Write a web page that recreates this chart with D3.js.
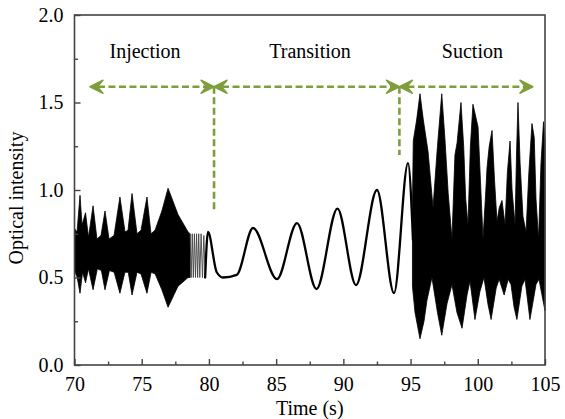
<!DOCTYPE html>
<html><head><meta charset="utf-8">
<script src="https://cdn.jsdelivr.net/npm/d3@7/dist/d3.min.js"></script>
<style>body{margin:0;background:#fff}svg text{font-family:'Liberation Serif','Times New Roman','DejaVu Serif',serif !important;fill:#000}</style>
</head><body><svg id="c" width="565" height="419" font-family="'Liberation Serif', serif"></svg>
<script>
// ---------- data ----------
const xTicks = [70, 75, 80, 85, 90, 95, 100, 105];
const xMinor = [72.5, 77.5, 82.5, 87.5, 92.5, 97.5, 102.5];
const yTicks = [0, 0.5, 1.0, 1.5, 2.0];
const yMinor = [0.25, 0.75, 1.25, 1.75];

// Injection: dense oscillation envelope
const injUpT = [70.0,70.19,70.41,70.56,70.82,71.04,71.38,71.67,71.97,72.27,72.57,72.94,73.38,73.76,73.98,74.28,74.65,74.95,75.39,75.69,75.99,76.5,76.96,77.70,78.45,78.60];
const injUpV = [0.78,0.76,0.97,0.80,0.87,0.73,0.91,0.72,0.74,0.88,0.72,0.74,0.96,0.76,0.77,0.98,0.75,0.77,0.96,0.75,0.77,0.88,1.01,0.86,0.76,0.75];
const injLoT = [70.0,70.2,70.41,70.6,70.82,71.04,71.38,71.7,72.0,72.27,72.6,72.95,73.38,73.75,74.0,74.28,74.65,74.95,75.39,75.7,76.0,76.5,76.96,77.7,78.45,78.6];
const injLoV = [0.54,0.50,0.41,0.53,0.47,0.55,0.43,0.55,0.54,0.43,0.54,0.53,0.41,0.53,0.53,0.40,0.53,0.52,0.41,0.53,0.52,0.43,0.33,0.45,0.50,0.50];

// Sparse fast oscillation at end of injection
const sparseT = [78.6,78.68,78.76,78.84,78.92,79.0,79.08,79.16,79.24,79.32,79.42,79.52,79.62,79.72];
const sparseV = [0.75,0.50,0.75,0.50,0.75,0.50,0.75,0.50,0.75,0.50,0.75,0.50,0.74,0.50];

// Transition: slow oscillation
const transT = [79.72,79.93,80.58,81.05,82.07,83.28,85.06,86.55,88.0,89.56,90.94,92.5,93.77,94.81,95.18];
const transV = [0.50,0.76,0.53,0.50,0.515,0.783,0.491,0.811,0.434,0.894,0.457,1.0,0.411,1.154,0.714];

// Suction: dense oscillation envelope
const sucUpT = [95.14,95.2,95.45,95.70,95.95,96.3,96.67,97.0,97.32,97.55,97.8,98.08,98.3,98.46,98.75,98.95,99.1,99.27,99.45,99.64,100.02,100.2,100.39,100.6,100.69,100.85,101.06,101.25,101.43,101.6,101.80,102.03,102.2,102.40,102.55,102.77,102.88,102.99,103.15,103.36,103.59,103.8,104.03,104.2,104.33,104.52,104.7,104.89,105.0];
const sucUpV = [0.90,1.28,1.40,1.55,1.40,1.22,0.90,1.25,1.55,1.30,0.98,0.72,1.20,1.27,1.50,1.25,0.95,0.80,1.25,1.49,1.36,1.05,0.72,1.00,1.13,1.25,1.34,1.05,0.82,0.90,0.94,0.80,1.10,1.28,1.00,0.80,1.20,1.50,1.15,0.85,0.76,1.10,1.38,1.30,0.95,0.72,1.15,1.39,1.29];
const sucLoT = [95.14,95.33,95.70,96.0,96.22,96.59,97.0,97.32,97.71,98.08,98.45,98.83,99.2,99.42,99.79,100.16,100.46,100.75,100.99,101.37,101.59,101.96,102.26,102.47,102.7,102.91,103.28,103.51,103.88,104.33,104.55,105.0];
const sucLoV = [0.45,0.30,0.15,0.25,0.37,0.50,0.30,0.17,0.35,0.46,0.30,0.21,0.40,0.48,0.26,0.42,0.50,0.35,0.26,0.44,0.49,0.40,0.49,0.46,0.33,0.26,0.45,0.49,0.26,0.46,0.49,0.31];

// Phase annotations
const phaseNames = ["Injection", "Transition", "Suction"];
const phaseCenters = [75.25, 87.52, 99.6];
const arrowStops = [71.15, 80.38, 94.17, 104.1];
const boundaryEnds = [0.886, 1.2];

// ---------- drawing ----------
const FONT = "'Liberation Serif','Times New Roman','DejaVu Serif',serif";
const svg = d3.select('#c');
const x = d3.scaleLinear().domain([70, 105]).range([74.5, 545]);
const y = d3.scaleLinear().domain([0, 2]).range([365, 15]);
const green = '#7f9d3c';
const fontSize = 20;

const zip = (T, V) => T.map((t, i) => [t, V[i]]);
const lin = d3.line().x(d => x(d[0])).y(d => y(d[1]));

function envelope(upT, upV, loT, loV) {
  const pts = zip(upT, upV).concat(zip(loT, loV).reverse());
  return lin(pts) + 'Z';
}
svg.append('path').attr('d', envelope(injUpT, injUpV, injLoT, injLoV))
  .attr('fill', '#000').attr('stroke', '#000').attr('stroke-width', 0.8).attr('stroke-linejoin', 'round');
svg.append('path').attr('d', envelope(sucUpT, sucUpV, sucLoT, sucLoV))
  .attr('fill', '#000').attr('stroke', '#000').attr('stroke-width', 0.8).attr('stroke-linejoin', 'round');

svg.append('path').attr('d', lin(zip(sparseT, sparseV)))
  .attr('fill', 'none').attr('stroke', '#444').attr('stroke-width', 0.9);

svg.append('path').attr('d', d3.line().curve(d3.curveMonotoneX).x(d => x(d[0])).y(d => y(d[1]))(zip(transT, transV)))
  .attr('fill', 'none').attr('stroke', '#000').attr('stroke-width', 2.3).attr('stroke-linecap', 'round');

// frame
svg.append('rect').attr('x', x(70)).attr('y', y(2)).attr('width', x(105) - x(70)).attr('height', y(0) - y(2))
  .attr('fill', 'none').attr('stroke', '#444').attr('stroke-width', 1.6);

// axes
function styleAxis(g) {
  g.attr('font-family', FONT);
  g.select('.domain').remove();
  g.selectAll('.tick line').attr('stroke', '#444').attr('stroke-width', 1.4);
  g.selectAll('.tick text').style('font-family', FONT).style('font-size', fontSize + 'px').attr('fill', '#000');
}
svg.append('g').attr('transform', `translate(0,${y(0)})`)
  .call(d3.axisBottom(x).tickValues(xTicks).tickFormat(d3.format('d')).tickSize(-6).tickPadding(12)).call(styleAxis);
svg.append('g').attr('transform', `translate(0,${y(0)})`)
  .call(d3.axisBottom(x).tickValues(xMinor).tickFormat('').tickSize(-3.5)).call(styleAxis);
svg.append('g').attr('transform', `translate(${x(70)},0)`)
  .call(d3.axisLeft(y).tickValues(yTicks).tickFormat(d3.format('.1f')).tickSize(-6).tickPadding(11)).call(styleAxis);
svg.append('g').attr('transform', `translate(${x(70)},0)`)
  .call(d3.axisLeft(y).tickValues(yMinor).tickFormat('').tickSize(-3.5)).call(styleAxis);

svg.append('text').attr('x', (x(70) + x(105)) / 2).attr('y', 415).attr('text-anchor', 'middle')
  .style('font-family', FONT).style('font-size', fontSize + 'px').text('Time (s)');
svg.append('text').attr('transform', `translate(23,${(y(0) + y(2)) / 2 + 8}) rotate(-90)`).attr('text-anchor', 'middle')
  .style('font-family', FONT).style('font-size', fontSize + 'px').text('Optical intensity');

// annotations
const arrowV = 1.59;
const ay = y(arrowV);
phaseNames.forEach((n, i) => {
  svg.append('text').attr('x', x(phaseCenters[i])).attr('y', 58).attr('text-anchor', 'middle')
    .style('font-family', FONT).style('font-size', fontSize + 'px').text(n);
});
function head(px, dir) {
  const p = [[px, ay], [px + dir * 13, ay - 6.5], [px + dir * 7.5, ay], [px + dir * 13, ay + 6.5]];
  svg.append('path').attr('d', 'M' + p.map(q => q.join(',')).join('L') + 'Z')
    .attr('fill', green).attr('stroke', green).attr('stroke-width', 1.4).attr('stroke-linejoin', 'round');
}
for (let i = 0; i < arrowStops.length - 1; i++) {
  const a = x(arrowStops[i]), b = x(arrowStops[i + 1]);
  svg.append('line').attr('x1', a + 8).attr('x2', b - 8).attr('y1', ay).attr('y2', ay)
    .attr('stroke', green).attr('stroke-width', 2.6).attr('stroke-dasharray', '7,3.5');
  head(a, 1);
  head(b, -1);
}
boundaryEnds.forEach((v, i) => {
  const bx = x(arrowStops[i + 1]);
  svg.append('line').attr('x1', bx).attr('x2', bx).attr('y1', ay).attr('y2', y(v))
    .attr('stroke', green).attr('stroke-width', 2.6).attr('stroke-dasharray', '7,3.5');
});
</script></body></html>
